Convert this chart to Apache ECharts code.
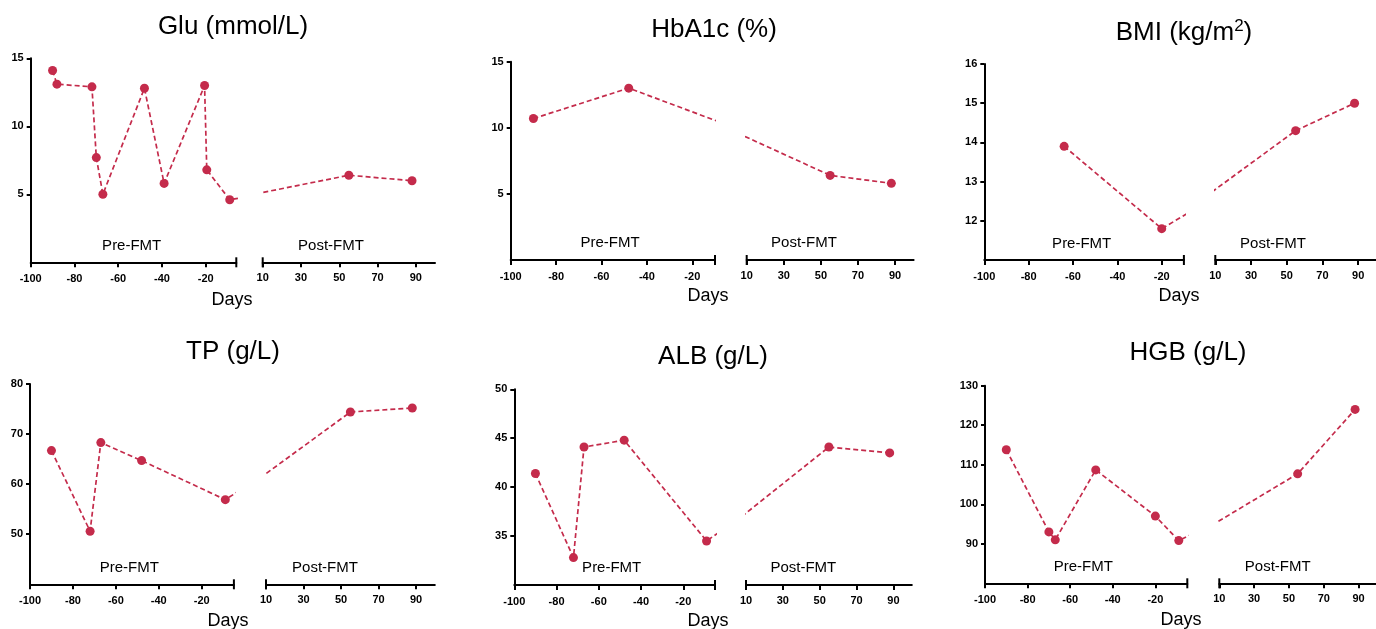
<!DOCTYPE html>
<html>
<head>
    <meta charset="utf-8">
    <title>Pre-FMT / Post-FMT</title>
    <script src="https://cdn.jsdelivr.net/npm/echarts@6.0.0/dist/echarts.min.js"></script>
    <style>
        html, body { margin: 0; padding: 0; background: #fff; }
        #main { width: 1376px; height: 629px; }
    </style>
</head>
<body>
    <div id="main"></div>
    <script>
        // 采样日（天）与各指标数值
        const gluDays = [-90, -88, -72, -70, -67, -48, -39, -20.5, -19.5, -9, 55, 88];
        const gluValues = [14.1, 13.1, 12.9, 7.7, 5.0, 12.8, 5.8, 13.0, 6.8, 4.6, 6.4, 6.0];

        const hba1cDays = [-90, -48, 55, 88];
        const hba1cValues = [10.7, 13.0, 6.4, 5.8];

        const bmiDays = [-64, -20, 55, 88];
        const bmiValues = [13.9, 11.8, 14.3, 15.0];

        const tpDays = [-90, -72, -67, -48, -9, 55, 88];
        const tpValues = [66.7, 50.6, 68.3, 64.7, 56.9, 74.4, 75.2];

        const albDays = [-90, -72, -67, -48, -9, 55, 88];
        const albValues = [41.4, 32.8, 44.1, 44.8, 34.5, 44.1, 43.5];

        const hgbDays = [-90, -70, -67, -48, -20, -9, 55, 88];
        const hgbValues = [113.8, 93.0, 91.0, 108.7, 97.0, 90.8, 107.7, 124.0];

        const titles = ['Glu (mmol/L)', 'HbA1c (%)', 'BMI (kg/m{sup|2})', 'TP (g/L)', 'ALB (g/L)', 'HGB (g/L)'];
        const yMin = [0, 0, 11, 40, 30, 80];
        const yMax = [15, 15, 16, 80, 50, 130];
        const yStep = [5, 5, 1, 10, 5, 10];
        const preEnd = [-6, -10, -10, -5, -5, -5];
        const preTicks = [-100, -80, -60, -40, -20];
        const postTicks = [10, 30, 50, 70, 90];

        const allDays = [gluDays, hba1cDays, bmiDays, tpDays, albDays, hgbDays];
        const allValues = [gluValues, hba1cValues, bmiValues, tpValues, albValues, hgbValues];

        // 每个小图的版式（像素）：y轴位置、前后两段坐标轴、文字位置
        const layout = [
            { x: 30.7, preW: 205.6, postL: 262.7, postW: 172.3, top: 58.3, axisY: 262.3, tx: 233, ty: 27, preX: 131.7, postX: 331, fmtY: 245.7, dx: 232, dy: 300 },
            { x: 510.7, preW: 204.3, postL: 746.7, postW: 166.9, top: 61.7, axisY: 260, tx: 714, ty: 30, preX: 610, postX: 804, fmtY: 243, dx: 708, dy: 296 },
            { x: 984.3, preW: 199.6, postL: 1215.3, postW: 165.8, top: 64, axisY: 260, tx: 1184, ty: 33, preX: 1081.7, postX: 1273, fmtY: 244, dx: 1179, dy: 296 },
            { x: 30, preW: 203.9, postL: 266, postW: 168.8, top: 384, axisY: 584.3, tx: 233, ty: 352, preX: 129.3, postX: 325, fmtY: 567.7, dx: 228, dy: 621 },
            { x: 514.3, preW: 200.7, postL: 746, postW: 165.8, top: 389.3, axisY: 585, tx: 713, ty: 357, preX: 611.7, postX: 803.3, fmtY: 568.3, dx: 708, dy: 621 },
            { x: 985, preW: 202.3, postL: 1219.3, postW: 168, top: 385.7, axisY: 583.3, tx: 1188, ty: 353, preX: 1083.3, postX: 1277.7, fmtY: 567.3, dx: 1181, dy: 620 }
        ];

        const red = '#c42b4b';
        const font = '"Liberation Sans", Arial, sans-serif';

        const grid = [], xAxis = [], yAxis = [], series = [], graphic = [];

        const axisBase = {
            axisLine: { show: true, onZero: false, lineStyle: { color: '#000', width: 2 } },
            splitLine: { show: false },
            axisLabel: { color: '#000', fontWeight: 'bold', fontSize: 11, fontFamily: font }
        };

        layout.forEach((p, i) => {
            const h = p.axisY - p.top;
            grid.push({ left: p.x, top: p.top, width: p.preW, height: h });
            grid.push({ left: p.postL, top: p.top, width: p.postW, height: h });

            xAxis.push(Object.assign({}, axisBase, {
                type: 'value', gridIndex: 2 * i, min: -100, max: preEnd[i], interval: 20,
                axisTick: { show: true, length: 5, customValues: preTicks, lineStyle: { color: '#000', width: 2 } },
                axisLabel: Object.assign({}, axisBase.axisLabel, { margin: 11, customValues: preTicks })
            }));
            xAxis.push(Object.assign({}, axisBase, {
                type: 'value', gridIndex: 2 * i + 1, min: 10, max: 100, interval: 20,
                axisTick: { show: true, length: 5, customValues: postTicks, lineStyle: { color: '#000', width: 2 } },
                axisLabel: Object.assign({}, axisBase.axisLabel, { margin: 10, customValues: postTicks })
            }));

            yAxis.push(Object.assign({}, axisBase, {
                type: 'value', gridIndex: 2 * i, min: yMin[i], max: yMax[i], interval: yStep[i],
                axisTick: { show: true, length: 4, lineStyle: { color: '#000', width: 2 } },
                axisLabel: Object.assign({}, axisBase.axisLabel, { margin: 7, showMinLabel: false })
            }));
            yAxis.push({ type: 'value', gridIndex: 2 * i + 1, min: yMin[i], max: yMax[i], show: false });

            const data = allDays[i].map((d, k) => [d, allValues[i][k]]);
            [0, 1].forEach(s => {
                series.push({
                    type: 'line',
                    xAxisIndex: 2 * i + s,
                    yAxisIndex: 2 * i + s,
                    data: data,
                    clip: true,
                    symbol: 'circle',
                    symbolSize: 9,
                    itemStyle: { color: red },
                    lineStyle: { color: red, width: 1.7, type: [5, 3] },
                    silent: true
                });
            });

            // 标题、分段说明和横轴名称
            graphic.push({
                type: 'text', x: p.tx, y: p.ty,
                style: {
                    text: titles[i], fill: '#000', font: '26px ' + font,
                    align: 'center', verticalAlign: 'middle',
                    rich: { sup: { fontSize: 17, fontFamily: font, padding: [0, 0, 14, 0] } }
                }
            });
            graphic.push({
                type: 'text', x: p.preX, y: p.fmtY,
                style: { text: 'Pre-FMT', fill: '#000', font: '15px ' + font, align: 'center', verticalAlign: 'middle' }
            });
            graphic.push({
                type: 'text', x: p.postX, y: p.fmtY,
                style: { text: 'Post-FMT', fill: '#000', font: '15px ' + font, align: 'center', verticalAlign: 'middle' }
            });
            graphic.push({
                type: 'text', x: p.dx, y: p.dy,
                style: { text: 'Days', fill: '#000', font: '18px ' + font, align: 'center', verticalAlign: 'middle' }
            });

            // 断轴两端的竖线
            [p.x + p.preW, p.postL].forEach(bx => {
                graphic.push({
                    type: 'line',
                    shape: { x1: bx, y1: p.axisY - 5, x2: bx, y2: p.axisY + 5 },
                    style: { stroke: '#000', lineWidth: 2 }
                });
            });
        });

        const chart = echarts.init(document.getElementById('main'));
        chart.setOption({
            animation: false,
            backgroundColor: '#fff',
            grid: grid,
            xAxis: xAxis,
            yAxis: yAxis,
            series: series,
            graphic: graphic
        });
    </script>
</body>
</html>
